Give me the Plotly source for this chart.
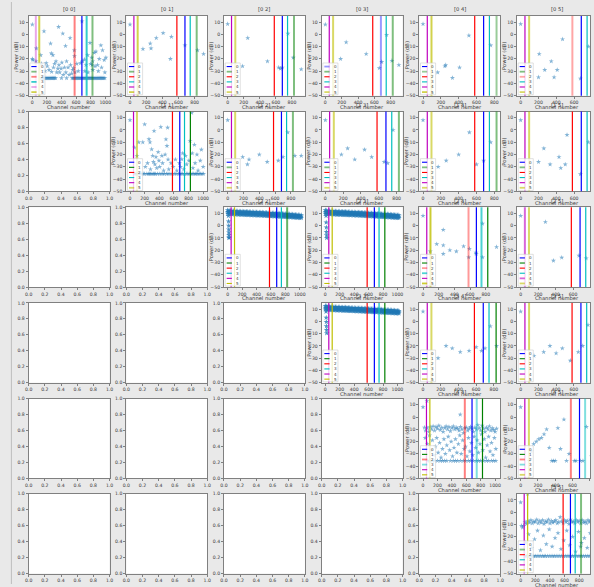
import plotly.graph_objects as go

# ---------------------------------------------------------------- data
# reference channels drawn as vertical lines, legend entries 0..5
marker_channels = [680, 825, 580, 745, 48, 95]
marker_names = ["0", "1", "2", "3", "4", "5"]

x_ticks = [0, 200, 400, 600, 800, 1000]
y_ticks = [-50, -40, -30, -20, -10, 0, 10]
unit_ticks = [0.0, 0.2, 0.4, 0.6, 0.8, 1.0]
power_limits = [-50, 15]

# measured power (channel, dB) for each pair [i j]
pts_00 = [(0, 8), (0, -20), (8, -21), (50, -22), (55, -11.5), (115, -17), (125, -24), (160, 2.5),
          (175, -30), (190, -23.5), (205, -26), (230, -29), (250, -7.5), (260, -15.5), (265, -30.5),
          (282, -17), (290, -27), (305, -24), (325, -22), (335, -31), (350, -28), (360, 6), (365, -25),
          (375, -31), (395, -28), (405, -23), (418, 0.6), (425, -33), (440, -27), (455, -9.5), (460, -31),
          (470, -22), (490, -27), (505, -33), (518, -3), (525, -25), (540, -32), (555, -29), (565, -27.5),
          (575, -13), (578, -17.7), (585, -31), (610, -24), (630, -30), (660, -23.5), (681, 10.5),
          (690, -22), (714, -20.5), (720, -30), (736, -25), (759, -17), (765, -31), (791, -7), (800, -24),
          (815, -19), (820, -25), (827, -22), (830, -29), (850, -15), (860, -26), (873, -14), (895, -25),
          (905, -30), (918, -20), (940, -9), (950, -27), (963, -13), (986, -21), (995, -31), (1009, -19)]
floor_00 = [125, 140, 155, 170, 185, 200, 215, 230, 245, 260, 275, 290, 305, 320, 400, 470, 545, 560,
            575, 590, 605, 620, 635, 650, 665, 680, 695, 710, 725, 740, 755, 770, 785, 800, 815, 830,
            845, 860, 875, 890, 905, 920, 935, 950, 965, 980, 995]

pts_01 = [(0, 8), (160, -12), (250, -7.5), (260, -11.5), (325, -3), (410, 1), (500, -20), (512, -2),
          (680, -9), (835, -13), (910, -16)]
floor_01 = []

pts_02 = [(0, 8.4), (185, -26), (250, -3), (495, -22), (635, -27), (655, -28), (680, -27), (750, 0.5),
          (815, -19), (915, -28.5)]
floor_02 = []

pts_03 = [(0, 8), (187, -20), (255, -6.5), (500, -16), (660, -27.5), (690, -22.5), (750, -0.5),
          (815, -21.5), (900, -25)]
floor_03 = []

pts_04 = [(0, 8.4), (165, -31), (245, -26), (255, -25), (330, -35.5), (410, -27), (515, -1), (760, -9)]
floor_04 = []

pts_05 = [(0, 8.4), (200, -35), (208, -16), (270, -29), (343, -22), (375, -35), (410, -29), (470, -4),
          (670, -36), (760, -10)]
floor_05 = []

pts_11 = [(0, 8), (60, -14.3), (95, -21), (120, -10), (175, -10), (200, 4.6), (210, -30), (240, -27),
          (259, -7.5), (273, -10), (280, -32), (296, -15.7), (310, -21), (320, -26), (329, -0.8),
          (340, -28), (355, -22), (365, -31), (385, -18), (395, -25), (405, -30), (421, 2.4), (435, -21),
          (445, -27), (460, -33), (480, -20), (491, -7.6), (505, -13), (514, 1.9), (520, -24), (530, -32),
          (560, -27), (590, -30), (620, -24), (640, -33), (675, -27), (690, -30), (708, -23.8), (720, -19),
          (735, -32), (760, -21), (775, -28), (805, -25), (820, -9), (843, 14), (850, -19), (860, -31),
          (880, -12), (890, -27), (915, -20), (930, -33), (960, -25), (975, -16), (1000, -30)]
floor_11 = [60, 80, 100, 120, 140, 160, 180, 200, 230, 250, 265, 280, 300, 320, 335, 350, 375, 400,
            425, 450, 470, 500, 520, 545, 575, 605, 630, 660, 680, 700, 720, 745, 770, 790, 810, 830,
            850, 870, 890, 905, 925, 945, 965, 985, 1005]

pts_12 = [(0, 8), (190, -22), (250, -28), (270, -24), (400, -20), (500, -26), (640, -25), (700, -22),
          (760, -2), (850, -21), (930, -21)]
floor_12 = []

pts_13 = [(0, 8), (180, -20), (250, -15), (330, -24), (440, -16), (520, -22), (660, -26), (700, -27),
          (760, 0)]
floor_13 = []

pts_14 = [(0, 8), (170, -30), (260, -25), (400, -20), (520, -2), (600, -28), (680, -25), (760, -10)]
floor_14 = []

pts_15 = [(0, 8), (200, -26), (260, -15), (330, -28), (430, -22), (450, -31), (500, -28), (520, -4),
          (670, -36), (760, -10)]
floor_15 = []

# dense sweep shared by the [2 2], [2 3] and [3 3] pairs: upper / middle / lower edge of the trace
band_ch = [0, 20, 40, 60, 80, 100, 120, 140, 160, 180, 200, 220, 240, 260, 280, 300, 320, 340, 360,
           380, 400, 420, 440, 460, 480, 500, 520, 540, 560, 580, 600, 620, 640, 660, 680, 700, 720,
           740, 760, 780, 800, 820, 840, 860, 880, 900, 920, 940, 960, 980, 1000, 1020]
band_22_hi = [12.6, 12.3, 12.1, 12.0, 11.9, 11.8, 11.7, 11.7, 11.6, 11.5, 11.5, 11.4, 11.4, 11.3,
              11.3, 11.2, 11.1, 11.1, 11.0, 11.0, 10.9, 10.8, 10.8, 10.7, 10.7, 10.6, 10.5, 10.5,
              10.4, 10.3, 10.2, 10.2, 10.1, 10.0, 10.0, 9.9, 9.8, 9.7, 9.7, 9.6, 9.5, 9.4, 9.4, 9.3,
              9.2, 9.1, 9.0, 8.9, 8.8, 8.7, 8.6, 8.5]
band_22_mid = [11.2, 11.0, 10.8, 10.7, 10.6, 10.5, 10.4, 10.4, 10.3, 10.3, 10.2, 10.1, 10.1, 10.0,
               10.0, 9.9, 9.9, 9.8, 9.8, 9.7, 9.7, 9.6, 9.6, 9.5, 9.4, 9.4, 9.3, 9.3, 9.2, 9.1, 9.0,
               9.0, 8.9, 8.8, 8.8, 8.7, 8.6, 8.5, 8.5, 8.4, 8.3, 8.2, 8.2, 8.1, 8.0, 7.9, 7.8, 7.7,
               7.6, 7.6, 7.5, 7.4]
band_22_lo = [9.8, 9.6, 9.5, 9.4, 9.3, 9.2, 9.1, 9.1, 9.0, 9.0, 8.9, 8.9, 8.8, 8.8, 8.7, 8.7, 8.6,
              8.6, 8.5, 8.5, 8.4, 8.4, 8.3, 8.3, 8.2, 8.1, 8.1, 8.0, 8.0, 7.9, 7.8, 7.8, 7.7, 7.6, 7.6,
              7.5, 7.4, 7.4, 7.3, 7.2, 7.1, 7.1, 7.0, 6.9, 6.9, 6.8, 6.7, 6.6, 6.6, 6.5, 6.4, 6.4]
pts_22 = [(10, 8), (12, 3.5), (14, 0), (15, -3), (16, -5.5), (17, -7.5), (18, -9.5), (20, -10)]
pts_23 = [(10, 8), (12, 2.6), (14, -1.4), (15, -5), (17, -7.7), (19, -9.9)]
pts_33 = [(10, 8), (12, 3), (14, -0.5), (15, -3.9), (17, -6.9), (19, -9.7)]

pts_24 = [(0, 8), (92, -21), (175, -15), (258, -3.4), (258, -16), (258, -23), (342, -20), (425, -21),
          (517, -16.8), (583, -25.8), (592, -18.8), (675, -22), (678, -23), (758, 1.6), (758, -25.8),
          (937, -17.4)]
floor_24 = []

pts_25 = [(0, 8), (283, 3), (375, -28.5), (470, -26), (667, -24.4), (750, -26.6), (842, 1.3),
          (842, -20)]
floor_25 = []

pts_34 = [(0, 8), (170, -30), (260, -20), (330, -22), (420, -25), (520, -24), (600, -21), (660, -24),
          (700, -22), (760, -4), (830, -20)]
floor_34 = []

pts_35 = [(0, 8), (150, -28), (260, -25), (330, -20), (400, -26), (470, -22), (560, -32), (650, -25),
          (700, -20), (760, -3), (830, -25)]
floor_35 = []

pts_44 = [(0, 8), (55, 13), (516, 2),
          (20, -8.5), (35, -11), (60, -9), (80, -12), (100, -8), (120, -10), (140, -7.5), (160, -11),
          (180, -8), (200, -9.5), (220, -7), (240, -10.5), (260, -8.5), (280, -12), (300, -9), (320, -7.5),
          (340, -10), (360, -8), (380, -11.5), (400, -9), (420, -7.5), (440, -10), (460, -8.5), (480, -9.5),
          (500, -11), (520, -8), (540, -10), (560, -13), (580, -9), (600, -8.5), (620, -11), (640, -9.5),
          (660, -8), (680, -9.5), (700, -12), (720, -8.5), (740, -10), (760, -6.5), (780, -9), (800, -11),
          (820, -7), (840, -9.5), (860, -12), (880, -8.5), (900, -10), (920, -7.5), (940, -11), (960, -9),
          (980, -10.5), (1000, -12), (1020, -9.5),
          (30, -17), (60, -22), (90, -15), (110, -27), (130, -19), (150, -31), (170, -24), (190, -17),
          (210, -29), (230, -21), (250, -33), (270, -26), (290, -18), (310, -30), (330, -23), (350, -16),
          (370, -27), (390, -20), (410, -32), (430, -25), (450, -18), (470, -29), (490, -22), (510, -15),
          (530, -30), (550, -19), (570, -26), (590, -24), (610, -32), (630, -17), (650, -28), (670, -21),
          (690, -31), (710, -16), (730, -25), (750, -19), (770, -29), (790, -22), (810, -14), (830, -27),
          (850, -18), (870, -33), (890, -23), (910, -16), (930, -28), (950, -21), (970, -31), (990, -17),
          (1010, -26)]
floor_44 = [60, 85, 110, 135, 160, 200, 240, 270, 300, 330, 380, 420, 450, 480, 520, 560, 590, 630,
            660, 700, 740, 770, 800, 840, 880, 910, 950, 980, 1010]

pts_45 = [(0, 8), (120, -28), (150, -22), (180, -20), (210, -18), (240, -17), (270, -14), (300, -10),
          (330, -25), (430, -9), (460, -26), (500, -2), (560, -30), (760, -8), (820, -32)]
floor_45 = [100, 360, 380, 400, 530, 620, 640, 690, 720, 850]

pts_55 = [(0, 8), (10, -11), (25, -12.5), (40, -11), (95, 15),
          (60, -8), (80, -9.5), (100, -7), (120, -8.5), (140, -6.5), (160, -9), (180, -7.5), (200, -8),
          (220, -6), (240, -9), (260, -7), (280, -8.5), (300, -6.5), (320, -9.5), (340, -7.5), (360, -8),
          (380, -6), (400, -9), (420, -7), (440, -8.5), (460, -7.5), (480, -6.5), (500, -9), (520, -8),
          (540, -4), (560, -7.5), (580, -9), (600, -6.5), (620, -8), (640, -7), (660, -9.5), (680, -6),
          (700, -8), (720, -7.5), (740, -9), (760, -6.5), (780, -8), (800, -7), (820, -9), (840, -6.5),
          (860, -8.5), (880, -7.5), (900, -9), (920, -6.5), (940, -8), (960, -7.5), (980, -9), (1000, -7),
          (70, -25), (110, -18), (150, -29), (190, -22), (230, -15), (270, -31), (310, -19), (350, -26),
          (390, -14), (430, -28), (470, -21), (510, -17), (550, -30), (590, -23), (630, -15), (670, -27),
          (710, -20), (750, -32), (790, -16), (820, -28), (830, -25), (870, -21), (910, -29), (950, -17),
          (990, -24)]
floor_55 = [60, 80, 100, 120, 140, 160, 180, 200, 225, 250, 275, 300, 320, 340, 365, 390, 415, 440,
            460, 485, 510, 535, 560, 585, 610, 635, 660, 685, 710, 735, 760, 785, 810, 835, 860, 885,
            910, 935, 960, 985, 1005]

floor_level = -35.7

# line transparency for the six reference channels in each panel
line_alpha = {
    "00": [1, .5, .5, .8, .35, .7], "01": [1, .5, 1, 1, 1, .7], "02": [1, .5, 1, 1, 1, .6],
    "03": [.4, .5, 1, 1, 1, .6], "04": [1, .4, 1, 1, 1, .7], "05": [1, .5, .35, 1, 1, .6],
    "11": [1, 1, 1, 1, 1, .6], "12": [1, .5, 1, 1, 1, .6], "13": [1, .5, 1, 1, 1, .6],
    "14": [1, .5, 1, 1, 1, .6], "15": [1, .5, 1, 1, 1, .6], "22": [1, .6, 1, 1, 1, 1],
    "23": [1, 1, 1, 1, 1, 1], "24": [1, 1, .4, .7, 1, .8], "25": [1, 1, 1, 1, .6, .6],
    "33": [1, 1, 1, 1, 1, 1], "34": [1, 1, 1, 1, 1, .6], "35": [1, 1, 1, 1, 1, .6],
    "44": [1, 1, .5, .5, 1, 1], "45": [1, 1, .5, .5, 1, .6], "55": [1, .5, 1, 1, 1, 1],
}
line_rgb = ["0,0,255", "0,128,0", "255,0,0", "0,191,191", "191,0,191", "191,191,0"]

# ---------------------------------------------------------------- layout geometry (pixels)
W, H = 594, 587
COL_X = [25, 124, 223, 322, 421, 520]
ROW_Y = [14, 110.5, 207, 303.5, 400, 496]
PW, PH = 82, 80.5
FONT = "DejaVu Sans"
TEXT = "#3a3a3a"
BAND_KEYS = ("22", "23", "33")


def panel_points(i, j):
    g = globals()
    key = f"{i}{j}"
    xs, ys = [], []
    if key in BAND_KEYS:
        for lst in (band_22_hi, band_22_mid, band_22_lo):
            xs += band_ch
            ys += lst
        extra = g[f"pts_{key}"]
    else:
        extra = g[f"pts_{key}"]
        fl = g.get(f"floor_{key}", [])
        xs += fl
        ys += [floor_level] * len(fl)
    xs += [p[0] for p in extra]
    ys += [p[1] for p in extra]
    return xs, ys


fig = go.Figure()
layout = dict(width=W, height=H, margin=dict(l=0, r=0, t=0, b=0),
              paper_bgcolor="#e9e9e9", plot_bgcolor="white", showlegend=False,
              font=dict(family=FONT, size=5, color=TEXT))
shapes, annotations = [], []

axis_style = dict(showline=True, mirror=True, linecolor="#808080", linewidth=1,
                  ticks="outside", ticklen=2, tickwidth=0.7, tickcolor="#808080",
                  showgrid=False, zeroline=False, tickfont=dict(family=FONT, size=4.6, color=TEXT))

k = 0
for r in range(6):
    for c in range(6):
        k += 1
        xa = "x" if k == 1 else f"x{k}"
        ya = "y" if k == 1 else f"y{k}"
        xkey = "xaxis" if k == 1 else f"xaxis{k}"
        ykey = "yaxis" if k == 1 else f"yaxis{k}"
        left = COL_X[c]
        right = min(left + PW, W)
        top = ROW_Y[r]
        bottom = top + PH
        xdom = [left / W, right / W]
        ydom = [1 - bottom / H, 1 - top / H]
        frac = (right - left) / PW

        if c < r:
            # unused pair: bare axes with default unit limits
            layout[xkey] = dict(axis_style, domain=xdom, anchor=ya, range=[0, 1 * frac],
                                tickvals=unit_ticks, ticktext=[f"{v:.1f}" for v in unit_ticks])
            layout[ykey] = dict(axis_style, domain=ydom, anchor=xa, range=[0, 1],
                                tickvals=unit_ticks, ticktext=[f"{v:.1f}" for v in unit_ticks])
            fig.add_trace(go.Scatter(x=[None], y=[None], mode="markers", xaxis=xa, yaxis=ya,
                                     hoverinfo="skip"))
            continue

        key = f"{r}{c}"
        xs, ys = panel_points(r, c)
        lo = min(xs + marker_channels)
        hi = max(xs + marker_channels)
        pad = 0.05 * (hi - lo)
        x0, x1 = lo - pad, hi + pad
        x1 = x0 + (x1 - x0) * frac

        layout[xkey] = dict(axis_style, domain=xdom, anchor=ya, range=[x0, x1],
                            tickvals=x_ticks, ticktext=[str(v) for v in x_ticks])
        layout[ykey] = dict(axis_style, domain=ydom, anchor=xa, range=power_limits,
                            tickvals=y_ticks, ticktext=[str(v).replace("-", "\u2212") for v in y_ticks])

        dense = key in BAND_KEYS
        fig.add_trace(go.Scatter(
            x=xs, y=ys, mode="markers", xaxis=xa, yaxis=ya, hoverinfo="skip",
            marker=dict(symbol="star", size=4.2 if dense else 3.8,
                        color="rgba(31,119,180,0.8)" if dense else "rgba(31,119,180,0.55)",
                        line=dict(width=0))))

        alphas = line_alpha[key]
        for n, ch in enumerate(marker_channels):
            a = alphas[n]
            shapes.append(dict(type="line", xref=xa, yref=f"{ya} domain", x0=ch, x1=ch, y0=0, y1=1,
                               line=dict(color=f"rgba({line_rgb[n]},{a})", width=1.2 if a >= 0.9 else 2.0),
                               layer="above"))

        # legend box in the lower-left corner
        wpx = right - left

        def fx(px):
            return px / wpx

        shapes.append(dict(type="rect", xref=f"{xa} domain", yref=f"{ya} domain",
                           x0=fx(1.2), x1=fx(16.5), y0=0.012, y1=0.41,
                           fillcolor="rgba(255,255,255,0.8)", line=dict(color="#cccccc", width=0.6),
                           layer="above"))
        for n in range(6):
            yy = 0.365 - n * 0.064
            a = alphas[n]
            shapes.append(dict(type="line", xref=f"{xa} domain", yref=f"{ya} domain",
                               x0=fx(2.7), x1=fx(8.0), y0=yy, y1=yy,
                               line=dict(color=f"rgba({line_rgb[n]},{a})", width=1.1 if a >= 0.9 else 1.8),
                               layer="above"))
            annotations.append(dict(xref=f"{xa} domain", yref=f"{ya} domain", x=fx(10), y=yy,
                                    text=marker_names[n], showarrow=False, xanchor="left",
                                    yanchor="middle", font=dict(family=FONT, size=4, color=TEXT)))

        # panel title and axis labels
        annotations.append(dict(xref="paper", yref="paper", x=(left + PW / 2) / W, y=1 - (top - 1.5) / H,
                                text=f"[{r} {c}]", showarrow=False, xanchor="center", yanchor="bottom",
                                font=dict(family=FONT, size=5.2, color=TEXT)))
        annotations.append(dict(xref="paper", yref="paper", x=(left + PW / 2) / W, y=1 - (bottom + 6.2) / H,
                                text="Channel number", showarrow=False, xanchor="center", yanchor="top",
                                font=dict(family=FONT, size=5.2, color=TEXT)))
        annotations.append(dict(xref="paper", yref="paper", x=(left - 13) / W, y=1 - (top + PH / 2) / H,
                                text="Power (dB)", showarrow=False, textangle=-90, xanchor="center",
                                yanchor="middle", font=dict(family=FONT, size=5.2, color=TEXT)))

# thin frame line along the left edge of the canvas
shapes.append(dict(type="line", xref="paper", yref="paper", x0=7.5 / W, x1=7.5 / W, y0=0, y1=1,
                   line=dict(color="#bdbdbd", width=1), layer="below"))

layout["shapes"] = shapes
layout["annotations"] = annotations
fig.update_layout(**layout)
fig.write_html("out.html")
